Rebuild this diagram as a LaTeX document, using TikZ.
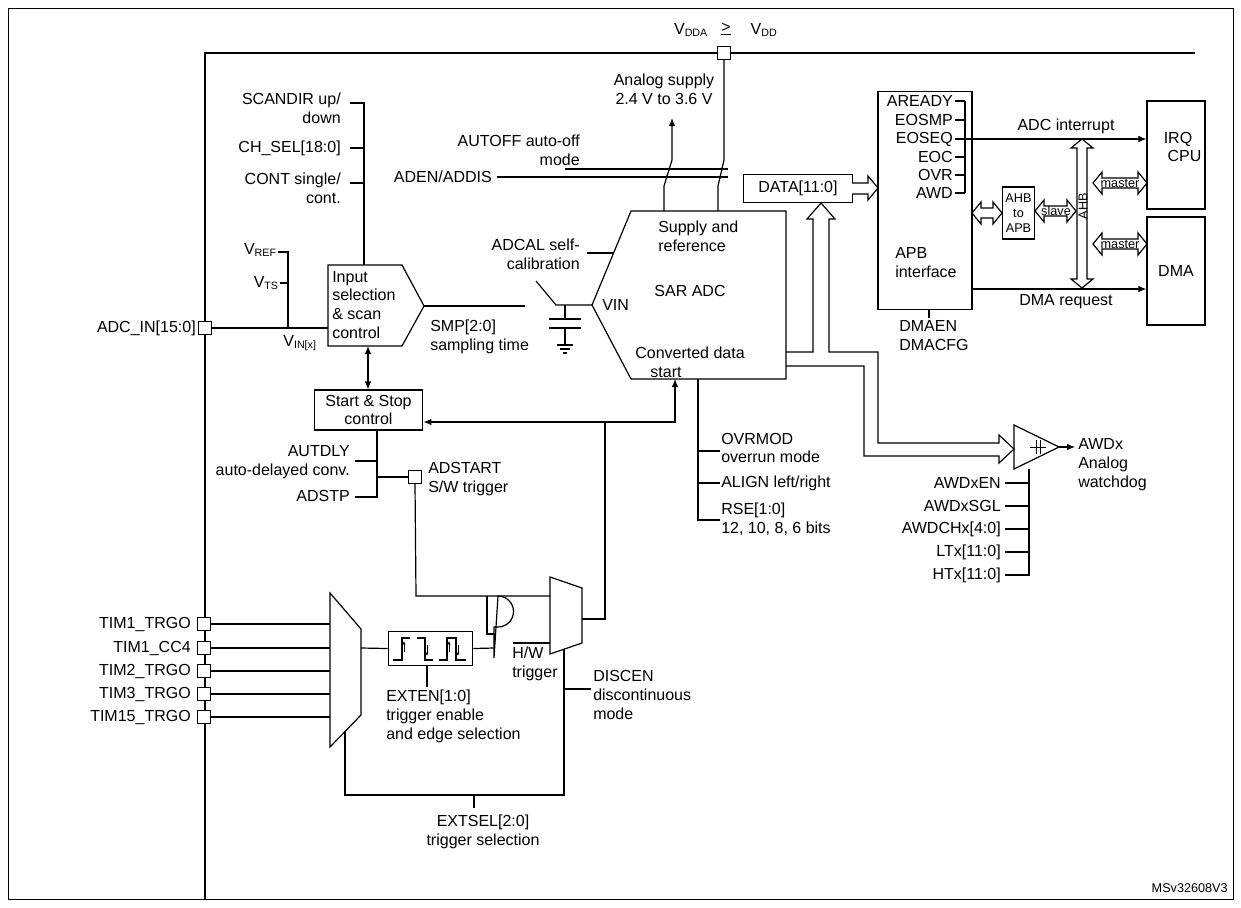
\documentclass[tikz,border=0pt]{standalone}
\usepackage{fontspec}
\setmainfont{Liberation Sans}
\usetikzlibrary{arrows.meta, positioning, calc}

% hollow bus arrows (pixel units, y downwards)
\newcommand{\hbi}[3]{\draw[wire,fill=white] (#1,#3) -- ++(9,-11) -- ++(0,6) -- ++(#2-#1-18,0) -- ++(0,-6) -- (#2,#3) -- ++(-9,11) -- ++(0,-6) -- ++(-#2+#1+18,0) -- ++(0,6) -- cycle;}
\newcommand{\vbi}[3]{\draw[wire,fill=white] (#1,#2) -- ++(-11,9) -- ++(6,0) -- ++(0,#3-#2-18) -- ++(-6,0) -- (#1,#3) -- ++(11,-9) -- ++(-6,0) -- ++(0,-#3+#2+18) -- ++(6,0) -- cycle;}

\begin{document}
\begin{tikzpicture}[
  x=0.75pt, y=-0.75pt,
  lbl/.style = {font=\fontsize{12}{14.2}\selectfont, inner sep=0pt},
  small/.style = {font=\fontsize{9.5}{11}\selectfont, inner sep=0pt},
  wire/.style = {line width=0.9pt},
  bus/.style = {line width=2.2pt},
  pad/.style = {draw, line width=0.9pt, fill=white, minimum size=9.5pt, inner sep=0pt},
  box/.style = {draw, line width=0.9pt, inner sep=0pt, align=center, font=\fontsize{12}{14.2}\selectfont},
  arrow/.style = {wire, -{Latex[length=6pt,width=5pt]}}
]
\useasboundingbox (0,0) rectangle (1241,907);
\draw[line width=0.5pt] (8,8) rectangle (1233,899);

% power bus
\draw[bus] (205,899) -- (205,53) -- (1195,53);
\node[pad] (vddpad) at (724,53) {};
\node[lbl] (vdda) at (691,30) {V\textsubscript{DDA}};
\node[lbl] (geq) at (726,29) {\underline{>}};
\node[lbl] (vdd) at (764,30) {V\textsubscript{DD}};

% analog supply and enable switches
\node[lbl, align=center] (asupply) at (664,89) {Analog supply\\2.4 V to 3.6 V};
\node[lbl, align=right, anchor=east] (autoff) at (580,150) {AUTOFF auto-off\\mode};
\node[lbl, anchor=east] (aden) at (492,177) {ADEN/ADDIS};
\draw[wire] (565,169) -- (728,169);
\draw[wire] (497,177) -- (728,177);
\draw[arrow] (664,211) -- (664,186) -- (672,160) -- (672,118);
\draw[wire] (vddpad.south) -- (724,160) -- (718,186) -- (718,211);
\foreach \p in {(666.8,177),(669.2,169),(720.2,177),(722,169)}
  \fill \p circle (1.6);

% SAR ADC
\draw[wire] (631,211) -- (786,211) -- (786,379) -- (631,379) -- (592,305) -- cycle;
\node[lbl, align=left, anchor=west] (supref) at (658,236) {Supply and\\reference};
\node[lbl] (sar) at (690,291) {SAR ADC};
\node[lbl, anchor=west] (vin) at (602,305) {VIN};
\node[lbl, align=center] (conv) at (690,362) {Converted data\\\hspace*{-3em}start};
\node[lbl, align=right, anchor=east] (adcal) at (580,254) {ADCAL self-\\calibration};
\draw[wire] (587,253) -- (613,253);

% sampling capacitor
\draw[wire] (536,281) -- (556,305) -- (592,305);
\draw[wire] (565,305) -- (565,319);
\draw[wire] (549,319) -- (581,319) (549,328) -- (581,328);
\draw[wire] (565,328) -- (565,345);
\draw[wire] (557,345) -- (573,345) (560,349) -- (570,349) (563,353) -- (567,353);

% input selection
\draw[wire] (328,265) -- (402,265) -- (424,306) -- (402,346) -- (328,346) -- cycle;
\node[lbl, align=left, anchor=west] (insel) at (332,305) {Input\\selection\\\& scan\\control};
\draw[wire] (424,306) -- (525,306);
\node[lbl, align=left, anchor=north west] (smp) at (430,320) {SMP[2:0]\\sampling time};
\node[pad] (adcin) at (205,328) {};
\node[lbl, anchor=east] (adcinl) at (196,328) {ADC\_IN[15:0]};
\draw[wire] (adcin.east) -- (328,328);
\draw[wire] (278,252) -- (288,252) -- (288,328);
\draw[wire] (280,283) -- (288,283);
\node[lbl, anchor=east] (vref) at (277,250) {V\textsubscript{REF}};
\node[lbl, anchor=east] (vts) at (279,283) {V\textsubscript{TS}};
\node[lbl] (vinx) at (300,343) {V\textsubscript{IN[x]}};
\draw[wire] (364,265) -- (364,103) -- (350,103);
\draw[wire] (350,148) -- (364,148) (350,183) -- (364,183);
\node[lbl, align=right, anchor=east] (scandir) at (341,108) {SCANDIR up/\\down};
\node[lbl, anchor=east] (chsel) at (341,148) {CH\_SEL[18:0]};
\node[lbl, align=right, anchor=east] (cont) at (341,188) {CONT single/\\cont.};

% start & stop control
\node[box, minimum width=81.5pt, minimum height=30pt] (startstop) at (368.5,410) {Start \& Stop\\control};
\draw[wire, {Latex[length=6pt,width=5pt]}-{Latex[length=6pt,width=5pt]}] (368,346) -- (startstop.north -| 368,0);
\draw[wire] (377,430) -- (377,497) -- (355,497);
\draw[wire] (355,461) -- (377,461);
\node[lbl, align=right, anchor=east] (autdly) at (350,462) {AUTDLY\\auto-delayed conv.};
\node[lbl, anchor=east] (adstp) at (350,496) {ADSTP};
\node[pad] (adstart) at (415,477) {};
\draw[wire] (377,477) -- (adstart.west);
\node[lbl, align=left, anchor=west] (adstartl) at (428,479) {ADSTART\\S/W trigger};

% trigger selection
\foreach \y/\t in {624/TIM1\_TRGO, 648/TIM1\_CC4, 671/TIM2\_TRGO, 694/TIM3\_TRGO, 717/TIM15\_TRGO} {
  \node[pad] (tim\y) at (204,\y) {};
  \node[lbl, anchor=east] at (191,\y) {\t};
  \draw[wire] (tim\y.east) -- (330,\y);
}
\draw[wire] (330,593) -- (361,629) -- (361,715) -- (330,747) -- cycle;
\node[draw, line width=0.9pt, minimum width=63.5pt, minimum height=26pt] (edge) at (430.5,648.5) {};
\draw[wire] (361,648) -- (edge.west);
\draw[wire] (edge.east) -- (494,648);
\draw[line width=0.8pt] (393,660) -- (402,660) -- (402,638) -- (410,638)
  (417,638) -- (425,638) -- (425,660) -- (433,660)
  (439,660) -- (447,660) -- (447,638) -- (456,638) -- (456,660) -- (466,660);
\draw[line width=0.6pt, -{Latex[length=2.5pt,width=2.5pt]}] (404,652) -- (404,641);
\draw[line width=0.6pt, -{Latex[length=2.5pt,width=2.5pt]}] (427,645) -- (427,656);
\draw[line width=0.6pt, -{Latex[length=2.5pt,width=2.5pt]}] (449,652) -- (449,641);
\draw[line width=0.6pt, -{Latex[length=2.5pt,width=2.5pt]}] (458,645) -- (458,656);
\draw[wire] (427,666) -- (427,687);
\node[lbl, align=left, anchor=north west] (exten) at (386,690) {EXTEN[1:0]\\trigger enable\\and edge selection};
% and gate
\draw[wire] (494,627) -- (498,627) arc (90:-90:15.5) -- (494,658) -- cycle;
\draw[wire] (adstart.south) -- (416,596) -- (550,596);
\draw[wire] (487,596) -- (487,634) -- (494,634);
\draw[wire] (513,643) -- (550,643);
\node[lbl, align=left, anchor=north west] (hw) at (512,647) {H/W\\trigger};
% start mux
\draw[wire] (550,577) -- (582,588) -- (582,643) -- (550,654) -- cycle;
\draw[wire] (582,619) -- (605,619) -- (605,422);
\draw[arrow] (675,422) -- (startstop.east |- 0,422);
\draw[arrow] (605,422) -- (675,422) -- (675,379);
\draw[wire] (345,731) -- (345,795) -- (564,795) -- (564,649);
\draw[wire] (564,689) -- (591,689);
\node[lbl, align=left, anchor=north west] (discen) at (593,670) {DISCEN\\discontinuous\\mode};
\draw[wire] (474,795) -- (474,808);
\node[lbl, align=center, anchor=north] (extsel) at (483,815) {EXTSEL[2:0]\\trigger selection};

% converter settings
\draw[wire] (698,379) -- (698,520) -- (720,520);
\draw[wire] (698,451) -- (720,451) (698,483) -- (720,483);
\node[lbl, align=left, anchor=west] (ovrmod) at (721,448) {OVRMOD\\overrun mode};
\node[lbl, anchor=west] (align) at (721,483) {ALIGN left/right};
\node[lbl, align=left, anchor=west] (rse) at (721,519) {RSE[1:0]\\12, 10, 8, 6 bits};

% data register and buses
\node[box, minimum width=82pt, minimum height=21.5pt] (data) at (798,188.5) {DATA[11:0]};
\draw[wire, fill=white] (852,183) -- (868,183) -- (868,176) -- (878,188) -- (868,200) -- (868,194) -- (852,194);
\draw[wire] (786,352) -- (813,352) -- (813,219) -- (807,219) -- (821,203) -- (835,219) -- (829,219)
  -- (829,352) -- (878,352) -- (878,443) -- (999,443) -- (999,435) -- (1014,449) -- (999,463) -- (999,456)
  -- (864,456) -- (864,366) -- (786,366);

% analog watchdog
\draw[wire] (1014,425) -- (1059,447) -- (1014,469) -- cycle;
\draw[line width=0.7pt] (1030,447) -- (1046,447) (1036,440) -- (1036,454) (1040,440) -- (1040,454);
\draw[arrow] (1059,447) -- (1075,447);
\node[lbl, align=left, anchor=west] (awdx) at (1078,465) {AWDx\\Analog\\watchdog};
\draw[wire] (1029,469) -- (1029,575) -- (1005,575);
\foreach \y/\t in {483/AWDxEN, 506/AWDxSGL, 529/AWDCHx[4:0], 552/LTx[11:0], 575/HTx[11:0]} {
  \draw[wire] (1005,\y) -- (1029,\y);
  \node[lbl, anchor=east] at (1001,\y) {\t};
}

% APB interface
\node[box, minimum width=70.5pt, minimum height=163pt] (apb) at (925,200.5) {};
\foreach \y/\t in {101/AREADY, 120/EOSMP, 139/EOSEQ, 157/EOC, 175/OVR, 193/AWD} {
  \node[lbl, anchor=east] at (953,\y) {\t};
  \draw[wire] (955,\y) -- (965,\y);
}
\draw[wire] (965,101) -- (965,193);
\node[lbl, align=left, anchor=west] (apbl) at (895,263) {APB\\interface};
\draw[wire] (929,309) -- (929,318);
\node[lbl, align=left, anchor=north west] (dmaen) at (899,320) {DMAEN\\DMACFG};

% system side
\node[box, minimum width=43.5pt, minimum height=81pt] (irq) at (1176,155) {};
\node[lbl, align=center] (irql) at (1178,147) {IRQ\\\hspace*{0.8em}CPU};
\node[box, minimum width=43.5pt, minimum height=81pt] (dma) at (1176,271) {DMA};
\draw[arrow] (965,139) -- (irq.west |- 0,139);
\node[lbl] (adcint) at (1066,126) {ADC interrupt};
\draw[arrow] (972,289) -- (dma.west |- 0,289);
\node[lbl] (dmareq) at (1066,302) {DMA request};
\node[box, minimum width=24.5pt, minimum height=39pt, font=\fontsize{9.5}{11}\selectfont] (ahb2apb) at (1018.5,213) {AHB\\to\\APB};
\hbi{972}{1002}{213}
\hbi{1035}{1076}{211}
\node[small] (slave) at (1056,211) {slave};
\vbi{1082}{139}{288}
\node[small, rotate=90] (ahb) at (1083,206) {AHB};
\hbi{1093}{1147}{183}
\node[small] (master1) at (1120,183) {master};
\hbi{1093}{1147}{244}
\node[small] (master2) at (1120,244) {master};

\node[small, anchor=east] (ref) at (1228,888) {MSv32608V3};
\end{tikzpicture}
\end{document}
